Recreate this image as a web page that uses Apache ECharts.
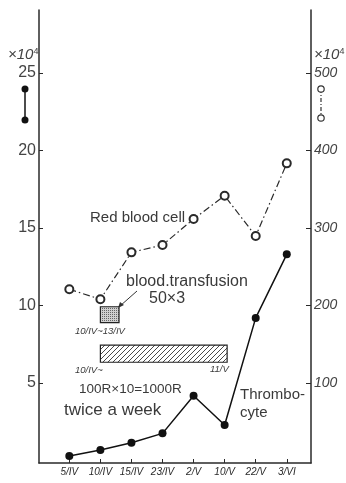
<!DOCTYPE html>
<html>
<head>
<meta charset="utf-8">
<script src="https://cdn.jsdelivr.net/npm/echarts@6/dist/echarts.min.js"></script>
<style>
html,body{margin:0;padding:0;background:#fff;}
#chart{width:346px;height:483px;}
</style>
</head>
<body>
<div id="chart"></div>
<script>
// ---- data ----
var categories = ['5/IV', '10/IV', '15/IV', '23/IV', '2/V', '10/V', '22/V', '3/VI'];
var redBloodCell = [11.05, 10.4, 13.43, 13.9, 15.58, 17.08, 14.48, 19.17];      // ×10^4 (left axis)
var thrombocyte = [5.8, 13.5, 23, 35, 83.6, 45.8, 184, 266];                    // ×10^4 (right axis)
var leftTicks = [5, 10, 15, 20, 25];
var rightTicks = [100, 200, 300, 400, 500];
// treatment periods (x in category index units, y in left-axis units)
var transfusionPeriod = [1, 1.6];     // 10/IV ~ 13/IV
var transfusionBand = [9.92, 8.89];
var radiationPeriod = [1, 5.08];      // 10/IV ~ 11/V
var radiationBand = [7.45, 6.34];

var FONT = '"Liberation Sans", "DejaVu Sans", sans-serif';
var INK = '#2a2a2a';
var TXT = '#3a3a3a';

function hatchPattern() {
  var c = document.createElement('canvas');
  c.width = 5; c.height = 5;
  var g = c.getContext('2d');
  g.fillStyle = '#fff'; g.fillRect(0, 0, 5, 5);
  g.strokeStyle = '#333'; g.lineWidth = 0.9;
  g.beginPath();
  g.moveTo(-1, 6); g.lineTo(6, -1);
  g.moveTo(-1, 1); g.lineTo(1, -1);
  g.moveTo(4, 6); g.lineTo(6, 4);
  g.stroke();
  return {image: c, repeat: 'repeat'};
}
function dotPattern() {
  var c = document.createElement('canvas');
  c.width = 2; c.height = 2;
  var g = c.getContext('2d');
  g.fillStyle = '#d0d0d0'; g.fillRect(0, 0, 2, 2);
  g.fillStyle = '#666'; g.fillRect(0, 0, 1, 1);
  return {image: c, repeat: 'repeat'};
}

var chart = echarts.init(document.getElementById('chart'), null, {renderer: 'canvas'});

var axisLine = {show: true, onZero: false, lineStyle: {color: INK, width: 1.5}};

chart.setOption({
  animation: false,
  backgroundColor: '#fff',
  grid: {left: 39, right: 35, top: 10, bottom: 20},
  xAxis: {
    type: 'value',
    min: -0.976, max: 7.78,
    splitLine: {show: false},
    axisLine: axisLine,
    axisTick: {show: true, inside: true, length: 4, lineStyle: {color: INK}, customValues: [0,1,2,3,4,5,6,7]},
    axisLabel: {
      customValues: [0,1,2,3,4,5,6,7],
      formatter: function (v) { return categories[Math.round(v)] || ''; },
      fontFamily: FONT, fontSize: 10, fontStyle: 'italic', color: INK, margin: 4
    }
  },
  yAxis: [
    {
      type: 'value', position: 'left',
      min: -0.161, max: 29.065,
      splitLine: {show: false},
      axisLine: axisLine,
      axisTick: {show: true, inside: true, length: 4, lineStyle: {color: INK}, customValues: leftTicks},
      axisLabel: {customValues: leftTicks, fontFamily: FONT, fontSize: 16, color: '#444', margin: 3}
    },
    {
      type: 'value', position: 'right',
      min: -3.23, max: 581.3,
      splitLine: {show: false},
      axisLine: axisLine,
      axisTick: {show: true, inside: true, length: 5, lineStyle: {color: INK}, customValues: rightTicks},
      axisLabel: {customValues: rightTicks, fontFamily: FONT, fontSize: 14, fontStyle: 'italic', color: '#444', margin: 3}
    }
  ],
  series: [
    {
      name: 'Red blood cell', type: 'line', yAxisIndex: 0,
      data: redBloodCell.map(function (v, i) { return [i, v]; }),
      symbol: 'emptyCircle', symbolSize: 8, showSymbol: true,
      itemStyle: {color: INK, borderColor: INK, borderWidth: 1.3},
      lineStyle: {color: INK, width: 1.2, type: [7, 3, 1.5, 3]},
      z: 3,
      markArea: {
        silent: true,
        label: {show: false},
        data: [
          [{coord: [transfusionPeriod[0], transfusionBand[0]], itemStyle: {color: dotPattern(), borderColor: '#222', borderWidth: 1.2}},
           {coord: [transfusionPeriod[1], transfusionBand[1]]}],
          [{coord: [radiationPeriod[0], radiationBand[0]], itemStyle: {color: hatchPattern(), borderColor: '#222', borderWidth: 1.2}},
           {coord: [radiationPeriod[1], radiationBand[1]]}]
        ]
      }
    },
    {
      name: 'Thrombocyte', type: 'line', yAxisIndex: 1,
      data: thrombocyte.map(function (v, i) { return [i, v]; }),
      symbol: 'circle', symbolSize: 8,
      itemStyle: {color: '#111'},
      lineStyle: {color: '#111', width: 1.5},
      z: 4
    }
  ],
  graphic: [
    // unit labels
    {type: 'text', left: 8, top: 47, style: {text: '×10{s|4}', rich: {s: {fontSize: 9, verticalAlign: 'top', fontFamily: FONT, fill: '#444', padding: [0,0,6,0]}}, font: 'italic 15px ' + FONT, fill: '#444'}},
    {type: 'text', left: 314, top: 47, style: {text: '×10{s|4}', rich: {s: {fontSize: 9, verticalAlign: 'top', fontFamily: FONT, fill: '#444', padding: [0,0,6,0]}}, font: 'italic 15px ' + FONT, fill: '#444'}},
    // key markers
    {type: 'line', shape: {x1: 25, y1: 89, x2: 25, y2: 120}, style: {stroke: '#111', lineWidth: 1.5}},
    {type: 'circle', shape: {cx: 25, cy: 89, r: 3.5}, style: {fill: '#111'}},
    {type: 'circle', shape: {cx: 25, cy: 120, r: 3.5}, style: {fill: '#111'}},
    {type: 'line', shape: {x1: 321, y1: 89, x2: 321, y2: 118}, style: {stroke: '#333', lineWidth: 1.2, lineDash: [4, 2, 1, 2]}},
    {type: 'circle', shape: {cx: 321, cy: 89, r: 3.2}, style: {fill: '#fff', stroke: '#333', lineWidth: 1.2}, z: 10},
    {type: 'circle', shape: {cx: 321, cy: 118, r: 3.2}, style: {fill: '#fff', stroke: '#333', lineWidth: 1.2}, z: 10},
    // annotations
    {type: 'text', left: 90, top: 210, style: {text: 'Red blood cell', font: '15px ' + FONT, fill: TXT}},
    {type: 'text', left: 126, top: 274, style: {text: 'blood.transfusion', font: '16px ' + FONT, fill: TXT}},
    {type: 'text', left: 149, top: 291, style: {text: '50×3', font: '16px ' + FONT, fill: TXT}},
    {type: 'line', shape: {x1: 137, y1: 291, x2: 120, y2: 306}, style: {stroke: '#333', lineWidth: 1}},
    {type: 'polygon', shape: {points: [[118, 308], [120, 302], [124, 305]]}, style: {fill: '#333'}},
    {type: 'text', left: 75, top: 326, style: {text: '10/IV~13/IV', font: 'italic 9.5px ' + FONT, fill: TXT}},
    {type: 'text', left: 75, top: 365, style: {text: '10/IV~', font: 'italic 9.5px ' + FONT, fill: TXT}},
    {type: 'text', left: 210, top: 364, style: {text: '11/V', font: 'italic 9.5px ' + FONT, fill: TXT}},
    {type: 'text', left: 79, top: 382, style: {text: '100R×10=1000R', font: '13.5px ' + FONT, fill: TXT}},
    {type: 'text', left: 64, top: 402, style: {text: 'twice a week', font: '17px ' + FONT, fill: TXT}},
    {type: 'text', left: 240, top: 387, style: {text: 'Thrombo-', font: '15px ' + FONT, fill: TXT}},
    {type: 'text', left: 240, top: 405, style: {text: 'cyte', font: '15px ' + FONT, fill: TXT}}
  ]
});
</script>
</body>
</html>
